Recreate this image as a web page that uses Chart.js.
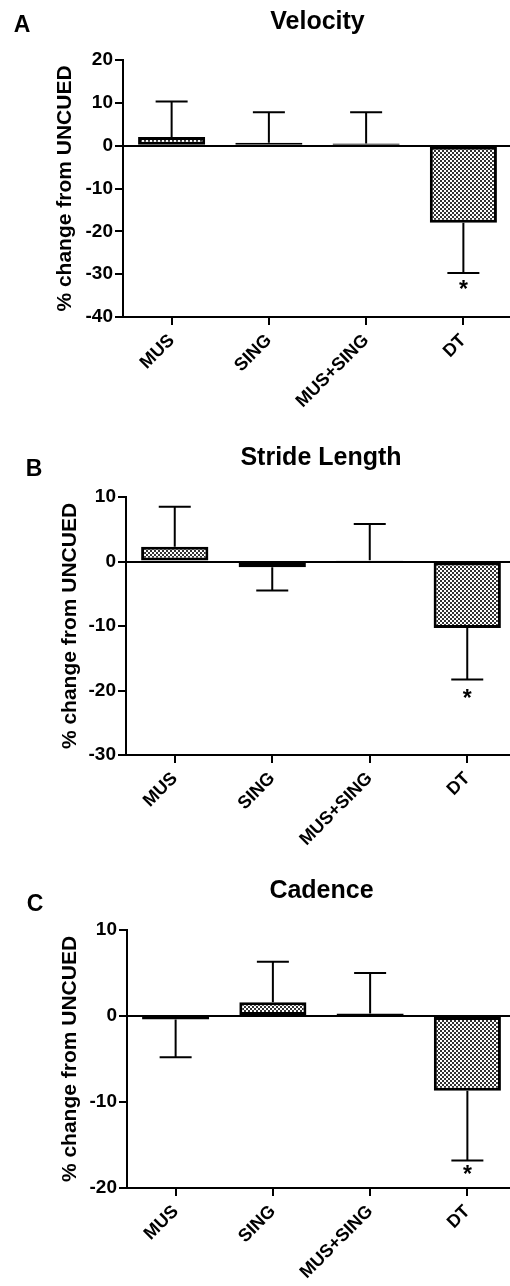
<html lang="en">
<head>
  <meta charset="UTF-8">
  <title>Gait change from UNCUED</title>
  <script src="https://cdn.jsdelivr.net/npm/chart.js"></script>
  <style>
    body, html {
      margin: 0;
      padding: 0;
      background: #fff;
      overflow: hidden;
      width: 510px;
      height: 1286px;
      font-family: "Liberation Sans", Arial, sans-serif;
    }
    .panel {
      position: absolute;
      left: 0;
    }
  </style>
</head>
<body>
  <div class="panel" id="boxA" style="top:0px;width:512px;height:420px"><canvas id="chartA"></canvas></div>
  <div class="panel" id="boxB" style="top:400px;width:516px;height:470px"><canvas id="chartB"></canvas></div>
  <div class="panel" id="boxC" style="top:830px;width:516px;height:456px"><canvas id="chartC"></canvas></div>

  <script>
    const conditions = ['MUS', 'SING', 'MUS+SING', 'DT'];

    // mean % change from UNCUED and the top of the (one-sided) error bar
    const velocityMean = [2.0, 0.7, 0.5, -18.0];
    const velocityErr = [10.3, 7.8, 7.8, -29.7];
    const strideMean = [2.3, -0.9, 0.2, -10.3];
    const strideErr = [8.5, -4.5, 5.8, -18.3];
    const cadenceMean = [-0.4, 1.6, 0.3, -8.7];
    const cadenceErr = [-4.8, 6.3, 5.0, -16.8];

    const velocityTicks = [-40, 20];
    const strideTicks = [-30, 10];
    const cadenceTicks = [-20, 10];

    const FONT = '"Liberation Sans", Arial, sans-serif';

    // checkered gray fill like the printed figure
    function makePattern() {
      const p = document.createElement('canvas');
      p.width = 4; p.height = 4;
      const c = p.getContext('2d');
      c.fillStyle = '#fff';
      c.fillRect(0, 0, 4, 4);
      c.fillStyle = '#333';
      c.fillRect(0, 0, 2, 2);
      c.fillRect(2, 2, 2, 2);
      return c.createPattern(p, 'repeat');
    }

    // error bars, asterisk, title and panel letter
    const decor = {
      id: 'decor',
      afterDatasetsDraw(chart, args, opts) {
        const ctx = chart.ctx;
        const x = chart.scales.x;
        const y = chart.scales.y;
        const area = chart.chartArea;
        ctx.save();
        ctx.strokeStyle = '#000';
        ctx.lineWidth = 2;
        opts.err.forEach((e, i) => {
          const cx = x.getPixelForValue(i);
          const y0 = y.getPixelForValue(opts.mean[i]);
          const y1 = y.getPixelForValue(e);
          ctx.beginPath();
          ctx.moveTo(cx, y0);
          ctx.lineTo(cx, y1);
          ctx.moveTo(cx - 16, y1);
          ctx.lineTo(cx + 16, y1);
          ctx.stroke();
        });
        // significance star under DT
        const si = opts.star;
        ctx.fillStyle = '#000';
        ctx.font = 'bold 23px ' + FONT;
        ctx.textAlign = 'center';
        ctx.textBaseline = 'middle';
        ctx.fillText('*', x.getPixelForValue(si), y.getPixelForValue(opts.err[si]) + opts.starGap);
        // title centred over the plot area
        ctx.font = 'bold 25px ' + FONT;
        ctx.fillText(opts.title, (area.left + area.right) / 2, opts.titleY);
        ctx.font = 'bold 23px ' + FONT;
        ctx.fillText(opts.letter, opts.letterX, opts.letterY);
        ctx.restore();
      }
    };

    function makeChart(id, mean, err, range, cfg) {
      const ctx = document.getElementById(id).getContext('2d');
      return new Chart(ctx, {
        type: 'bar',
        data: {
          labels: conditions,
          datasets: [{
            data: mean,
            backgroundColor: makePattern(),
            borderColor: '#000',
            borderWidth: 3,
            borderSkipped: false,
            categoryPercentage: 1,
            barPercentage: 0.69
          }]
        },
        options: {
          responsive: true,
          maintainAspectRatio: false,
          animation: false,
          layout: {
            padding: { top: cfg.top, left: cfg.left, right: 0, bottom: 0 }
          },
          scales: {
            x: {
              afterFit: s => { s.height = cfg.xh; },
              border: { color: '#000', width: 2 },
              grid: {
                offset: false,
                drawOnChartArea: false,
                tickLength: 8,
                tickColor: '#000',
                lineWidth: 2
              },
              ticks: {
                color: '#000',
                minRotation: 45,
                maxRotation: 45,
                padding: 5,
                font: { family: FONT, size: 18, weight: 'bold' }
              }
            },
            y: {
              min: range[0],
              max: range[1],
              afterFit: s => { s.width = cfg.yw; },
              border: { color: '#000', width: 2 },
              grid: {
                color: c => (c.tick && c.tick.value === 0) ? '#000' : 'rgba(0,0,0,0)',
                tickColor: '#000',
                tickLength: 8,
                lineWidth: 2
              },
              ticks: {
                stepSize: 10,
                color: '#000',
                padding: 2,
                font: { family: FONT, size: 19, weight: 'bold' }
              },
              title: {
                display: true,
                text: '% change from UNCUED',
                color: '#000',
                padding: 0,
                font: { family: FONT, size: 21, weight: 'bold' }
              }
            }
          },
          plugins: {
            legend: { display: false },
            tooltip: { enabled: false },
            decor: {
              mean: mean,
              err: err,
              star: 3,
              starGap: cfg.starGap,
              title: cfg.title,
              titleY: cfg.titleY,
              letter: cfg.letter,
              letterX: cfg.letterX,
              letterY: cfg.letterY
            }
          }
        },
        plugins: [decor]
      });
    }

    makeChart('chartA', velocityMean, velocityErr, velocityTicks, {
      top: 60, left: 53, yw: 70, xh: 103,
      title: 'Velocity', titleY: 22, letter: 'A', letterX: 22, letterY: 26, starGap: 18
    });
    makeChart('chartB', strideMean, strideErr, strideTicks, {
      top: 97, left: 58, yw: 68, xh: 115,
      title: 'Stride Length', titleY: 58, letter: 'B', letterX: 34, letterY: 70, starGap: 20
    });
    makeChart('chartC', cadenceMean, cadenceErr, cadenceTicks, {
      top: 100, left: 58, yw: 69, xh: 98,
      title: 'Cadence', titleY: 61, letter: 'C', letterX: 35, letterY: 75, starGap: 15
    });
  </script>
</body>
</html>
